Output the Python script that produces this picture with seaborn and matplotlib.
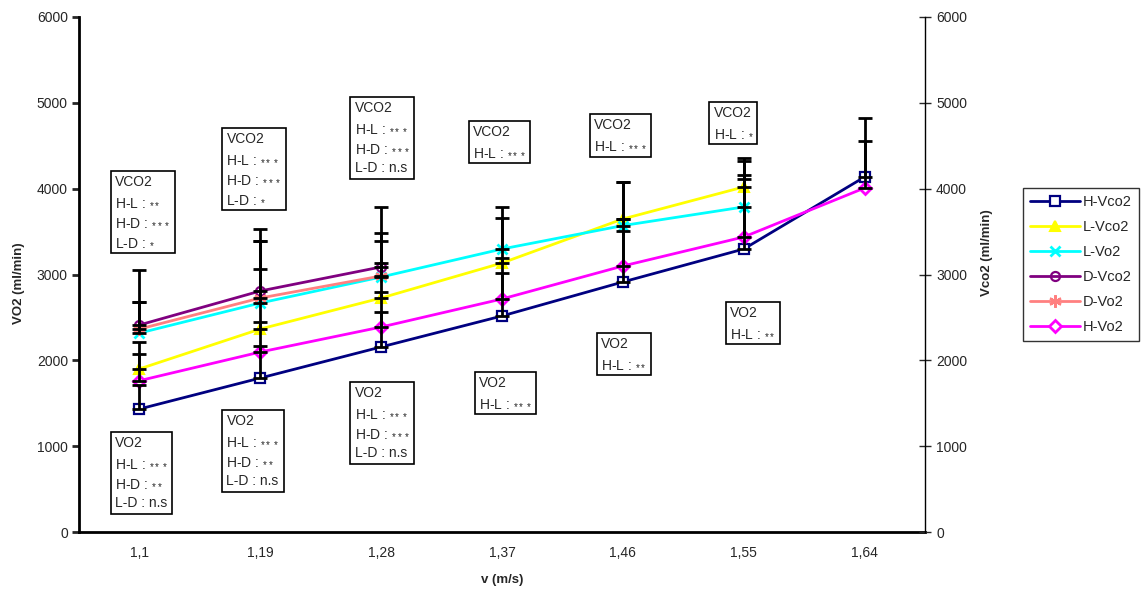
import numpy as np
import pandas as pd
import matplotlib
matplotlib.use("Agg")
import matplotlib.pyplot as plt
import seaborn as sns
from matplotlib.lines import Line2D

# ---- data -------------------------------------------------------------
speeds = ["1,1", "1,19", "1,28", "1,37", "1,46", "1,55", "1,64"]

h_vco2 = [1433, 1794, 2156, 2517, 2913, 3297, 4136]
l_vco2 = [1900, 2365, 2726, 3134, 3647, 4020]
l_vo2 = [2318, 2668, 2971, 3297, 3570, 3787]
d_vco2 = [2412, 2808, 3088]
d_vo2 = [2365, 2726, 2983]
h_vo2 = [1763, 2097, 2388, 2715, 3099, 3437, 4008]

# upper standard deviations
h_vco2_sd = [280, 373, 407, 501, 594, 816, 687]
l_vco2_sd = [314, 699, 408, 524, 431, 337]
l_vo2_sd = [365, 722, 419, 490, 508, 535]
d_vco2_sd = [641, 722, 699]
d_vo2_sd = [318, 664, 501]
h_vo2_sd = [311, 350, 408, 477, 548, 722, 548]

series_names = ["H-Vco2", "L-Vco2", "L-Vo2", "D-Vco2", "D-Vo2", "H-Vo2"]
series_vals = [h_vco2, l_vco2, l_vo2, d_vco2, d_vo2, h_vo2]
series_sd = [h_vco2_sd, l_vco2_sd, l_vo2_sd, d_vco2_sd, d_vo2_sd, h_vo2_sd]

# significance notes (stars drawn small)
S1 = r"$\mathregular{_{*}}$"
S2 = r"$\mathregular{_{**}}$"
S3 = r"$\mathregular{_{***}}$"
vco2_notes = [
    f"VCO2\nH-L : {S2}\nH-D : {S3}\nL-D : {S1}",
    f"VCO2\nH-L : {S3}\nH-D : {S3}\nL-D : {S1}",
    f"VCO2\nH-L : {S3}\nH-D : {S3}\nL-D : n.s",
    f"VCO2\nH-L : {S3}",
    f"VCO2\nH-L : {S3}",
    f"VCO2\nH-L : {S1}",
]
vo2_notes = [
    f"VO2\nH-L : {S3}\nH-D : {S2}\nL-D : n.s",
    f"VO2\nH-L : {S3}\nH-D : {S2}\nL-D : n.s",
    f"VO2\nH-L : {S3}\nH-D : {S3}\nL-D : n.s",
    f"VO2\nH-L : {S3}",
    f"VO2\nH-L : {S2}",
    f"VO2\nH-L : {S2}",
]
vco2_note_x = [-0.20, 0.72, 1.78, 2.76, 3.76, 4.75]
vco2_note_y = [4160, 4660, 5020, 4740, 4820, 4960]
vo2_note_x = [-0.20, 0.72, 1.78, 2.81, 3.82, 4.89]
vo2_note_y = [1120, 1375, 1700, 1820, 2270, 2630]

# ---- styles -----------------------------------------------------------
styles = {
    "H-Vco2": dict(color="#000080", marker="s", mfc="white", ms=6.5, mew=1.6),
    "L-Vco2": dict(color="#FFFF00", marker="^", mfc="#FFFF00", ms=7.5, mew=1.5),
    "L-Vo2": dict(color="#00FFFF", marker="x", mfc="#00FFFF", ms=7, mew=2.0),
    "D-Vco2": dict(color="#800080", marker="o", mfc="none", ms=6.5, mew=1.6),
    "D-Vo2": dict(color="#FF8080", marker=(6, 2, 0), mfc="#FF8080", ms=9, mew=1.6),
    "H-Vo2": dict(color="#FF00FF", marker="D", mfc="white", ms=6, mew=2.0),
}

rows = []
for name, vals, sds in zip(series_names, series_vals, series_sd):
    for i, (v, s) in enumerate(zip(vals, sds)):
        rows.append(dict(series=name, pos=i, value=v, sd=s))
df = pd.DataFrame(rows)

sns.set_theme(style="white")
plt.rcParams["font.family"] = ["Liberation Sans", "DejaVu Sans"]
plt.rcParams["mathtext.fontset"] = "custom"
plt.rcParams["mathtext.rm"] = "Liberation Sans"

fig = plt.figure(figsize=(11.41, 5.92), dpi=100)
ax = fig.add_axes([79 / 1141, 1 - 532 / 592, (925 - 79) / 1141, (532 - 17) / 592])

for name in series_names:
    sub = df[df.series == name]
    st = styles[name]
    sns.lineplot(data=sub, x="pos", y="value", ax=ax, color=st["color"],
                 linewidth=2.0, marker=st["marker"], markersize=st["ms"],
                 markerfacecolor=st["mfc"], markeredgecolor=st["color"],
                 markeredgewidth=st["mew"], legend=False, zorder=3)

for name in series_names:
    sub = df[df.series == name]
    ax.errorbar(sub["pos"], sub["value"], yerr=[np.zeros(len(sub)), sub["sd"]],
                fmt="none", ecolor="black", elinewidth=2.0, capsize=5,
                capthick=2.0, zorder=4)

ax.set_xlim(-0.5, len(speeds) - 0.5)
ax.set_ylim(0, 6000)
ax.set_yticks(np.arange(0, 6001, 1000))
ax.set_xticks(np.arange(-0.5, len(speeds), 1.0))
ax.set_xticklabels([])
ax.set_xticks(np.arange(len(speeds)), minor=True)
ax.set_xticklabels(speeds, minor=True)
ax.tick_params(axis="x", which="major", direction="inout", length=9, width=2, colors="black")
ax.tick_params(axis="x", which="minor", length=0, pad=10, labelsize=10)
ax.tick_params(axis="y", direction="out", length=5, width=2, labelsize=10, pad=3, left=True)

for side in ["top", "right"]:
    ax.spines[side].set_visible(False)
for side in ["left", "bottom"]:
    ax.spines[side].set_color("black")
    ax.spines[side].set_linewidth(2)

ax.set_xlabel("v (m/s)", fontsize=9.5, fontweight="bold")
ax.xaxis.set_label_coords(0.5, -0.082)
ax.set_ylabel("VO2 (ml/min)", fontsize=9.5, fontweight="bold")
ax.yaxis.set_label_coords(-0.064, 0.483)

ax2 = ax.twinx()
ax2.set_ylim(0, 6000)
ax2.set_yticks(np.arange(0, 6001, 1000))
ax2.tick_params(axis="y", direction="inout", length=8, width=1, labelsize=10, pad=4, right=True)
for side in ["top", "left", "bottom"]:
    ax2.spines[side].set_visible(False)
ax2.spines["right"].set_color("black")
ax2.spines["right"].set_linewidth(1)
ax2.set_ylabel("Vco2 (ml/min)", fontsize=9.5, fontweight="bold")
ax2.yaxis.set_label_coords(1.066, 0.542)
ax2.grid(False)
ax.grid(False)

box = dict(boxstyle="square,pad=0.3", facecolor="white", edgecolor="black", linewidth=1.2)
for txt, x, y in zip(vco2_notes, vco2_note_x, vco2_note_y):
    ax.text(x, y, txt, fontsize=10, va="top", ha="left", linespacing=1.55,
            bbox=box, zorder=6)
for txt, x, y in zip(vo2_notes, vo2_note_x, vo2_note_y):
    ax.text(x, y, txt, fontsize=10, va="top", ha="left", linespacing=1.55,
            bbox=box, zorder=6)

handles = []
for name in series_names:
    st = styles[name]
    handles.append(Line2D([], [], color=st["color"], linewidth=2, marker=st["marker"],
                          markersize=st["ms"], markerfacecolor=st["mfc"],
                          markeredgecolor=st["color"], markeredgewidth=st["mew"]))
leg = fig.legend(handles, series_names, loc="upper left",
                 bbox_to_anchor=(1023 / 1141, 1 - 188 / 592), fontsize=10.5,
                 frameon=True, fancybox=False, edgecolor="black",
                 handlelength=3.4, labelspacing=0.75, borderpad=0.5,
                 handletextpad=0.2, borderaxespad=0)
leg.get_frame().set_linewidth(1)

fig.savefig("out.png", dpi=100)
